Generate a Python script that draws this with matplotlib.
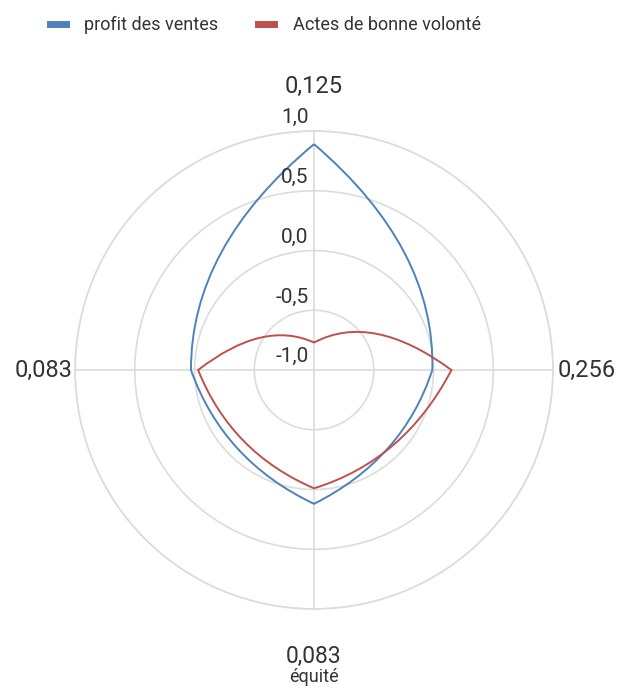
import numpy as np
import matplotlib.pyplot as plt
from matplotlib.path import Path
from matplotlib.patches import PathPatch
from matplotlib.lines import Line2D

plt.rcParams['font.family'] = ['Roboto', 'DejaVu Sans']

# axis names (clockwise from the top) and the two series
categories = ['0,125', '0,256', '0,083', '0,083']
bottom_name = 'équité'
series_names = ['profit des ventes', 'Actes de bonne volonté']
profit = [0.89, -0.01, 0.12, 0.03]
actes = [-0.77, 0.15, -0.01, -0.03]
rticks = [-1.0, -0.5, 0.0, 0.5, 1.0]
rtick_labels = ['-1,0', '-0,5', '0,0', '0,5', '1,0']

blue = '#4f81bd'
red = '#c0504d'
grid_col = '#dcdcdc'
text_col = '#333333'

angles = np.linspace(0, 2 * np.pi, len(categories) + 1)


def curved_path(values):
    # closed loop, each segment bent by a quadratic control point half way round
    n = len(values)
    verts = [(angles[0], values[0])]
    codes = [Path.MOVETO]
    for i in range(n):
        nxt = values[(i + 1) % n]
        verts.append(((angles[i] + angles[i + 1]) / 2, (values[i] + nxt) / 2))
        verts.append((angles[i + 1], nxt))
        codes += [Path.CURVE3, Path.CURVE3]
    return Path(verts, codes)


fig = plt.figure(figsize=(6.17, 6.88), dpi=100)
ax = fig.add_axes([0.1216, 0.1148, 0.7747, 0.6948], projection='polar')
ax.set_theta_zero_location('N')
ax.set_theta_direction(-1)
ax.set_ylim(-1, 1)
ax.set_xticks(angles[:-1])
ax.set_xticklabels([])
ax.set_yticks(rticks)
ax.set_yticklabels([])
ax.grid(color=grid_col, lw=1.2)
ax.spines['polar'].set_color(grid_col)
ax.spines['polar'].set_linewidth(1.2)
ax.tick_params(length=0)

for vals, col in [(profit, blue), (actes, red)]:
    ax.add_patch(PathPatch(curved_path(vals), fill=False, edgecolor=col, lw=1.4,
                           transform=ax.transData, zorder=3))

# radial scale labels, just above each ring
for v, lab in zip(rticks, rtick_labels):
    ax.annotate(lab, xy=(0, v), xytext=(-4, 9.5), textcoords='offset points',
                ha='right', va='center', fontsize=15, color=text_col)

# category labels
ax.text(angles[0], 1.37, categories[0], ha='center', va='center', fontsize=17, color=text_col, clip_on=False)
ax.text(angles[1], 1.04, categories[1], ha='left', va='center', fontsize=17, color=text_col, clip_on=False)
ax.text(angles[2], 1.40, categories[2], ha='center', va='center', fontsize=16.5, color=text_col, clip_on=False)
ax.text(angles[2], 1.57, bottom_name, ha='center', va='center', fontsize=13, color=text_col, clip_on=False)
ax.text(angles[3], 1.02, categories[3], ha='right', va='center', fontsize=17, color=text_col, clip_on=False)

handles = [Line2D([], [], color=blue, lw=5), Line2D([], [], color=red, lw=5)]
fig.legend(handles, series_names, loc='center', bbox_to_anchor=(0.43, 1 - 25 / 688), ncol=2,
           frameon=False, fontsize=13, handlelength=0.9, columnspacing=2.2, handletextpad=1.0,
           labelcolor=text_col)

fig.savefig('out.png', dpi=100, facecolor='white')
